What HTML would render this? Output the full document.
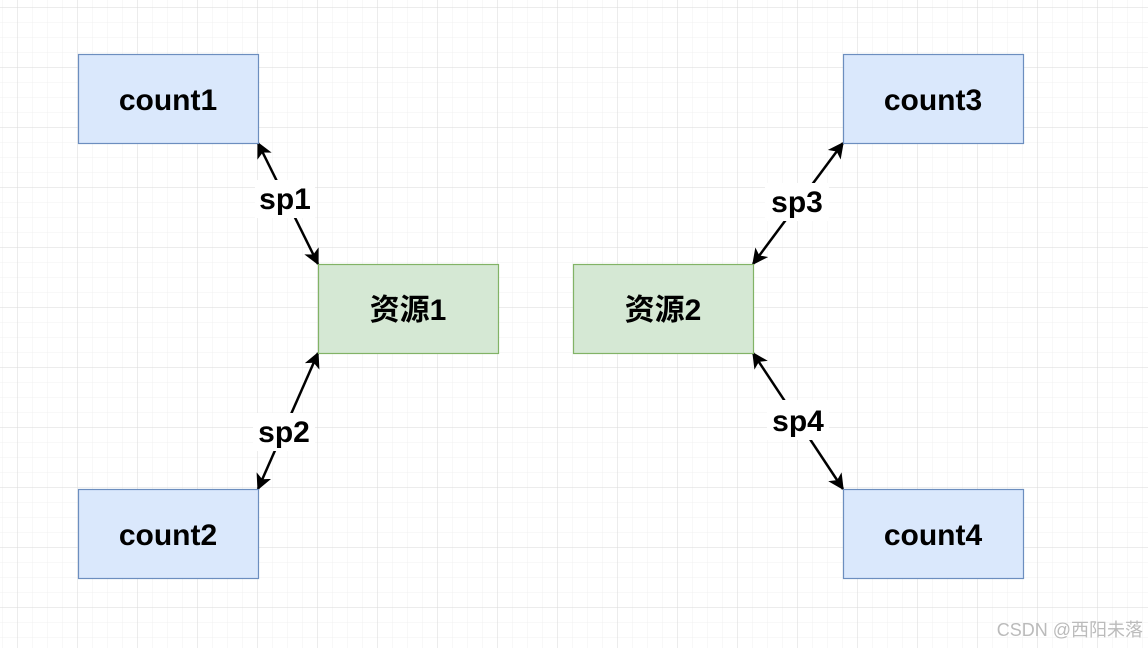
<!DOCTYPE html>
<html><head><meta charset="utf-8"><style>html,body{margin:0;padding:0;background:#fff}svg{display:block}</style></head>
<body>
<svg width="1148" height="648" viewBox="0 0 1148 648" xmlns="http://www.w3.org/2000/svg">
<defs>
<pattern id="minor" x="2.5" y="7.5" width="15" height="15" patternUnits="userSpaceOnUse">
<path d="M0 0H15M0 0V15" stroke="#f0f0f0" stroke-width="1" fill="none"/>
</pattern>
<pattern id="major" x="17.5" y="7.5" width="60" height="60" patternUnits="userSpaceOnUse">
<path d="M0 0H60M0 0V60" stroke="#dadada" stroke-width="1" fill="none"/>
</pattern>
<marker id="ah" viewBox="0 0 10 10" refX="9" refY="5" markerWidth="7" markerHeight="7" orient="auto-start-reverse" markerUnits="userSpaceOnUse">
</marker>
<marker id="a" viewBox="0 0 12 12" refX="11" refY="6" markerWidth="16" markerHeight="16" orient="auto-start-reverse" markerUnits="userSpaceOnUse">
<path d="M0 0 L12 6 L0 12 L3 6 Z" fill="#000"/>
</marker>
</defs>
<rect width="1148" height="648" fill="url(#minor)"/>
<rect width="1148" height="648" fill="url(#major)"/>
<g stroke="#000" stroke-width="2.5" fill="none">
<line x1="258" y1="143" x2="318" y2="264" marker-start="url(#a)" marker-end="url(#a)"/>
<line x1="258" y1="489" x2="318" y2="353" marker-start="url(#a)" marker-end="url(#a)"/>
<line x1="843" y1="143" x2="753" y2="264" marker-start="url(#a)" marker-end="url(#a)"/>
<line x1="753" y1="353" x2="843" y2="489" marker-start="url(#a)" marker-end="url(#a)"/>
</g>
<g fill="#fff">
<rect x="255" y="180" width="60" height="38"/>
<rect x="253" y="413" width="62" height="38"/>
<rect x="765" y="183" width="64" height="38"/>
<rect x="767" y="400" width="62" height="40"/>
</g>
<g stroke-width="1.2">
<rect x="78.5" y="54.5" width="180" height="89" fill="#dae8fc" stroke="#6c8ebf"/>
<rect x="843.5" y="54.5" width="180" height="89" fill="#dae8fc" stroke="#6c8ebf"/>
<rect x="78.5" y="489.5" width="180" height="89" fill="#dae8fc" stroke="#6c8ebf"/>
<rect x="843.5" y="489.5" width="180" height="89" fill="#dae8fc" stroke="#6c8ebf"/>
<rect x="318.5" y="264.5" width="180" height="89" fill="#d5e8d4" stroke="#82b366"/>
<rect x="573.5" y="264.5" width="180" height="89" fill="#d5e8d4" stroke="#82b366"/>
</g>
<g font-family="'Liberation Sans','Noto Sans CJK SC',sans-serif" font-weight="bold" font-size="30" text-anchor="middle" fill="#000">
<text x="168" y="110">count1</text>
<text x="933" y="110">count3</text>
<text x="168" y="545">count2</text>
<text x="933" y="545">count4</text>
<text x="408" y="320">资源1</text>
<text x="663" y="320">资源2</text>
<text x="285" y="209">sp1</text>
<text x="284" y="442">sp2</text>
<text x="797" y="212">sp3</text>
<text x="798" y="431">sp4</text>
</g>
<text x="1143" y="636" text-anchor="end" font-family="'Liberation Sans','Noto Sans CJK SC',sans-serif" font-size="18" fill="#bbb">CSDN @西阳未落</text>
</svg>
</body></html>
